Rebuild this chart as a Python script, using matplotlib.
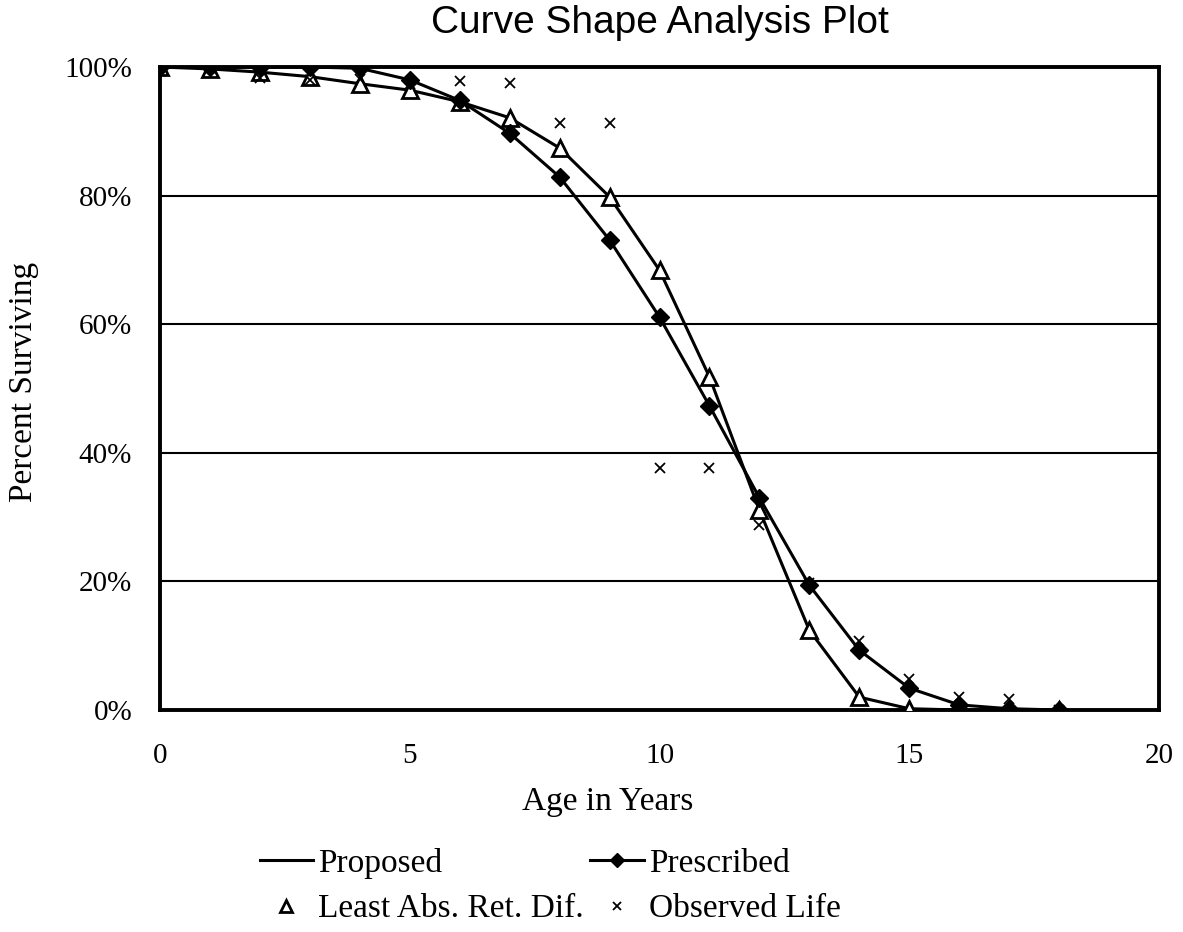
import matplotlib
matplotlib.use("Agg")
import matplotlib.pyplot as plt

# ---- data ----
age = list(range(0, 19))
proposed = [100, 99.7, 99.2, 98.5, 97.4, 96.4, 94.6, 92.1, 87.4, 79.8, 68.4,
            51.8, 31.1, 12.4, 2.0, 0.2, 0.0, 0.0, 0.0]
least_abs = [100, 99.7, 99.2, 98.5, 97.4, 96.4, 94.6, 92.1, 87.4, 79.8, 68.4,
             51.8, 31.1, 12.4, 2.0, 0.2, 0.0, 0.0, 0.0]
prescribed = [100, 100, 100, 100, 99.8, 98.0, 94.8, 89.7, 82.9, 73.1, 61.1,
              47.3, 33.0, 19.4, 9.3, 3.4, 0.8, 0.2, 0.0]
observed = [100, 99.8, 98.3, 98.0, 98.2, 97.3, 97.8, 97.5, 91.3, 91.3, 37.6,
            37.6, 28.8, 19.8, 10.7, 4.8, 2.0, 1.7, 0.0]
x_ticks = [0, 5, 10, 15, 20]
y_ticks = [0, 20, 40, 60, 80, 100]
y_tick_labels = ["0%", "20%", "40%", "60%", "80%", "100%"]

serif = "Liberation Serif"
sans = "Liberation Sans"

W, H = 1183, 932
fig = plt.figure(figsize=(W / 100, H / 100), dpi=100)
ax = fig.add_axes([160 / W, 1 - 710 / H, (1159 - 160) / W, (710 - 67) / H])

ax.plot(age, proposed, color="black", lw=2.2, zorder=3, label="Proposed")
ax.plot(age, least_abs, ls="none", marker="^", ms=11, mfc="white", mec="black",
        mew=2.0, zorder=4, label="Least Abs. Ret. Dif.")
ax.plot(age, prescribed, color="black", lw=2.2, marker="D", ms=9, mfc="black",
        mec="black", zorder=5, label="Prescribed")
ax.plot(age, observed, ls="none", marker="x", ms=7, mew=1.3, color="black",
        zorder=6, label="Observed Life")

ax.set_xlim(0, 20)
ax.set_ylim(0, 100)
ax.set_xticks(x_ticks)
ax.set_xticklabels([str(t) for t in x_ticks], fontsize=21, family=serif)
ax.set_yticks(y_ticks)
ax.set_yticklabels(y_tick_labels, fontsize=21, family=serif)
ax.tick_params(axis="both", length=0)
ax.tick_params(axis="y", pad=20)
ax.tick_params(axis="x", pad=24)
for s in ax.spines.values():
    s.set_linewidth(2.8)
    s.set_color("black")
ax.grid(axis="y", color="black", lw=1.5, zorder=1)
ax.set_axisbelow(True)

fig.text(660 / W, 1 - 23 / H, "Curve Shape Analysis Plot", ha="center", va="center",
         fontsize=28, family=sans)
fig.text(608 / W, 1 - 802 / H, "Age in Years", ha="center", va="center",
         fontsize=24, family=serif)
fig.text(24 / W, 1 - 382 / H, "Percent Surviving", ha="center", va="center",
         rotation=90, fontsize=24, family=serif)

handles, labels = ax.get_legend_handles_labels()
order = [labels.index(n) for n in ["Proposed", "Least Abs. Ret. Dif.",
                                   "Prescribed", "Observed Life"]]
leg = fig.legend([handles[i] for i in order], [labels[i] for i in order],
                 ncol=2, loc="upper left", bbox_to_anchor=(243 / W, 1 - 831 / H),
                 frameon=False, prop={"family": serif, "size": 24},
                 handlelength=1.6, handletextpad=0.15, columnspacing=0.2,
                 labelspacing=0.45, borderpad=0, markerscale=0.8)

fig.savefig("out.png", dpi=100)
